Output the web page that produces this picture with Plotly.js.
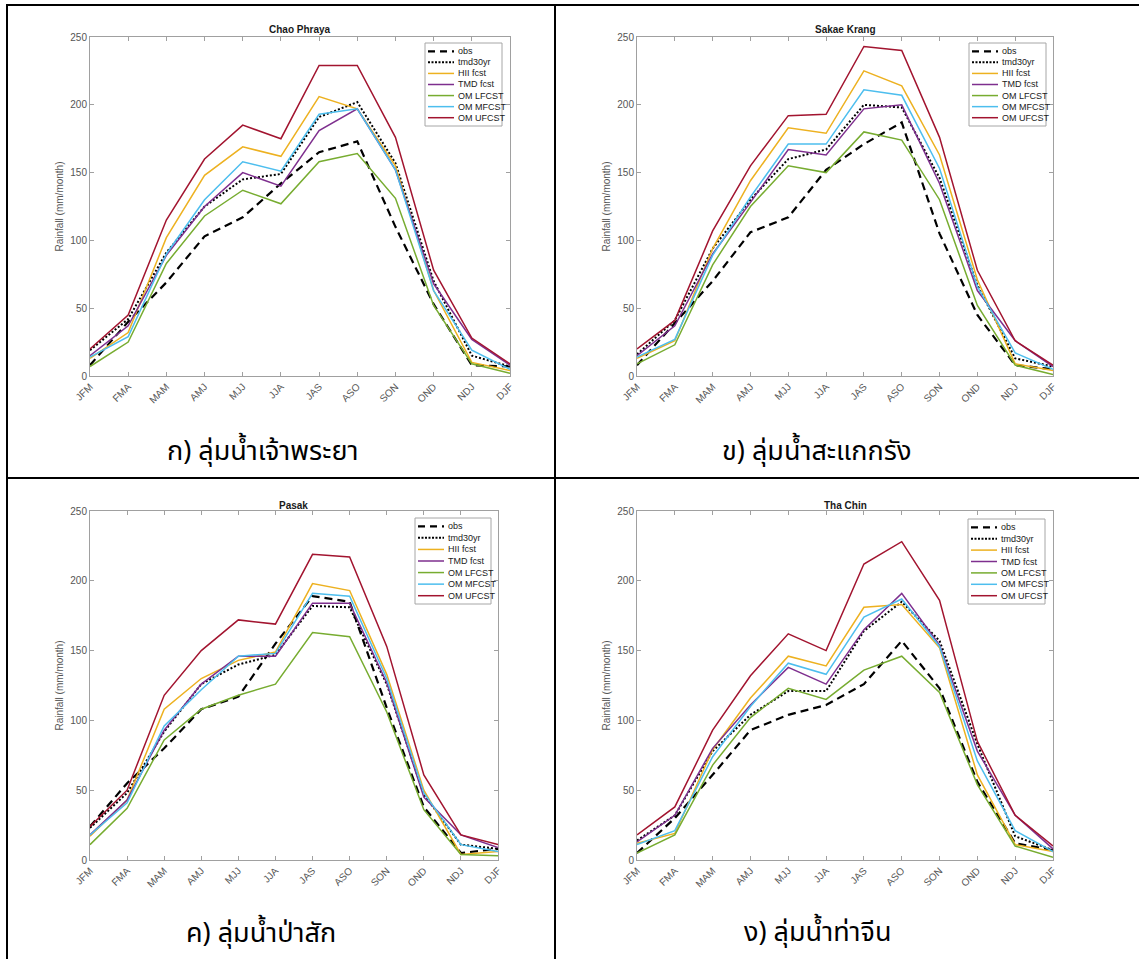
<!DOCTYPE html>
<html><head><meta charset="utf-8">
<script src="https://cdn.plot.ly/plotly-3.0.1.min.js"></script>
<style>html,body{margin:0;padding:0;background:#fff}#chart{width:1139px;height:959px}</style>
</head><body><div id="chart"></div>
<script>
// ---------------- data ----------------
const seasons = ['JFM','FMA','MAM','AMJ','MJJ','JJA','JAS','ASO','SON','OND','NDJ','DJF'];
const seriesNames = ['obs','tmd30yr','HII fcst','TMD fcst','OM LFCST','OM MFCST','OM UFCST'];
const basinTitles = ['Chao Phraya','Sakae Krang','Pasak','Tha Chin'];
const basinCaptions = ['ก) ลุ่มน้ำเจ้าพระยา','ข) ลุ่มน้ำสะแกกรัง','ค) ลุ่มน้ำป่าสัก','ง) ลุ่มน้ำท่าจีน'];
const yTickVals = [0,50,100,150,200,250];
const yAxisLabel = 'Rainfall (mm/month)';

// Chao Phraya
const chaoObs   = [8,40,69,103,117,142,165,173,110,53,8,7];
const chaoTmd30 = [19,42,91,125,145,149,191,202,157,70,15,7];
const chaoHii   = [13,32,102,148,169,162,206,197,155,63,10,4];
const chaoTmd   = [15,37,89,125,150,140,181,197,152,68,27,8];
const chaoOmL   = [7,25,83,118,137,127,158,164,131,52,9,2];
const chaoOmM   = [14,29,90,130,158,151,193,197,152,63,19,5];
const chaoOmU   = [20,45,115,160,185,175,229,229,176,78,28,9];

// Sakae Krang
const sakaeObs   = [8,39,70,106,117,152,171,187,105,45,8,5];
const sakaeTmd30 = [16,41,94,130,160,167,200,198,146,67,13,7];
const sakaeHii   = [13,26,94,144,183,179,225,214,163,71,9,4];
const sakaeTmd   = [15,37,90,128,167,163,197,200,142,63,26,7];
const sakaeOmL   = [9,23,82,125,155,150,180,174,130,52,8,1];
const sakaeOmM   = [14,27,89,132,171,171,211,207,153,66,17,5];
const sakaeOmU   = [20,41,107,155,192,193,243,240,176,78,26,8];

// Pasak
const pasakObs   = [24,55,80,108,117,155,189,185,109,38,5,8];
const pasakTmd30 = [23,48,92,126,140,147,182,181,126,47,11,8];
const pasakHii   = [17,43,108,130,143,149,198,193,133,50,4,6];
const pasakTmd   = [18,43,93,126,146,146,184,184,127,45,18,9];
const pasakOmL   = [11,37,86,108,118,126,163,160,106,36,4,3];
const pasakOmM   = [18,41,96,122,146,148,191,189,130,48,11,6];
const pasakOmU   = [24,50,118,150,172,169,219,217,153,61,18,11];

// Tha Chin
const thachinObs   = [5,30,61,93,104,111,126,157,123,56,12,7];
const thachinTmd30 = [14,32,78,104,121,121,164,185,157,83,17,7];
const thachinHii   = [12,19,79,116,146,139,181,183,152,61,11,6];
const thachinTmd   = [13,32,80,111,138,126,165,191,154,78,32,8];
const thachinOmL   = [5,18,68,102,123,115,136,146,120,54,10,2];
const thachinOmM   = [11,21,74,110,141,133,174,187,153,71,21,6];
const thachinOmU   = [18,38,93,132,162,150,212,228,186,85,32,10];

const basinData = [
  [chaoObs, chaoTmd30, chaoHii, chaoTmd, chaoOmL, chaoOmM, chaoOmU],
  [sakaeObs, sakaeTmd30, sakaeHii, sakaeTmd, sakaeOmL, sakaeOmM, sakaeOmU],
  [pasakObs, pasakTmd30, pasakHii, pasakTmd, pasakOmL, pasakOmM, pasakOmU],
  [thachinObs, thachinTmd30, thachinHii, thachinTmd, thachinOmL, thachinOmM, thachinOmU]
];

// ---------------- styles ----------------
const seriesColors = ['#000000','#000000','#EDB120','#7E2F8E','#77AC30','#4DBEEE','#A2142F'];
const seriesDash   = ['8px,5px','2px,2px','solid','solid','solid','solid','solid'];
const seriesWidth  = [2.2,2,1.5,1.5,1.5,1.5,1.5];

const W = 1139, H = 959;
const FONT = 'Liberation Sans, Arial, Helvetica, sans-serif';
const THAI = 'Noto Sans Thai, Noto Looped Thai, Loma, Garuda, Norasi, Tlwg Typo, sans-serif';
const px = v => v / W;
const py = v => 1 - v / H;

// panel geometry in pixels
const panels = [
  {x0:90,  x1:510,  y0:37,  y1:376, leg:[425,43,502,126], cap:[262,451], ty:30},
  {x0:637, x1:1053, y0:37,  y1:376, leg:[969,43,1046,126], cap:[816,451], ty:30},
  {x0:90,  x1:498,  y0:511, y1:860, leg:[415,518,491,604], cap:[261,933], ty:505},
  {x0:637, x1:1053, y0:511, y1:860, leg:[968,519,1045,604], cap:[817,932], ty:505}
];

const traces = [];
const layout = {
  width: W, height: H,
  margin: {l:0, r:0, t:0, b:0},
  paper_bgcolor: '#ffffff', plot_bgcolor: '#ffffff',
  showlegend: false,
  font: {family: FONT, size: 10, color: '#555555'},
  shapes: [], annotations: []
};

panels.forEach((p, k) => {
  const sfx = k === 0 ? '' : String(k + 1);
  const xa = 'xaxis' + sfx, ya = 'yaxis' + sfx;
  basinData[k].forEach((vals, i) => {
    traces.push({
      type: 'scatter', mode: 'lines',
      x: seasons, y: vals,
      name: seriesNames[i],
      xaxis: 'x' + sfx, yaxis: 'y' + sfx,
      line: {color: seriesColors[i], dash: seriesDash[i], width: seriesWidth[i]},
      hoverinfo: 'x+y+name'
    });
  });
  layout[xa] = {
    domain: [px(p.x0), px(p.x1)],
    anchor: 'y' + sfx,
    type: 'category', categoryarray: seasons, range: [0, 11],
    showline: true, linecolor: '#a0a0a0', linewidth: 1, mirror: 'ticks',
    ticks: 'inside', ticklen: 4, tickcolor: '#a0a0a0',
    tickangle: -45, tickfont: {family: FONT, size: 10, color: '#555555'},
    showgrid: false, zeroline: false, fixedrange: true
  };
  layout[ya] = {
    domain: [py(p.y1), py(p.y0)],
    anchor: 'x' + sfx,
    range: [0, 250], tickvals: yTickVals,
    showline: true, linecolor: '#a0a0a0', linewidth: 1, mirror: 'ticks',
    ticks: 'inside', ticklen: 4, tickcolor: '#a0a0a0',
    tickfont: {family: FONT, size: 10, color: '#555555'},
    title: {text: yAxisLabel, font: {family: FONT, size: 10, color: '#555555'}, standoff: 4},
    showgrid: false, zeroline: false, fixedrange: true
  };
  // subplot title
  layout.annotations.push({
    xref: 'paper', yref: 'paper', x: px((p.x0 + p.x1) / 2), y: py(p.ty),
    text: '<b>' + basinTitles[k] + '</b>', showarrow: false,
    font: {family: FONT, size: 10, color: '#1a1a1a'}, xanchor: 'center', yanchor: 'middle'
  });
  // caption
  layout.annotations.push({
    xref: 'paper', yref: 'paper', x: px(p.cap[0]), y: py(p.cap[1]),
    text: basinCaptions[k], showarrow: false,
    font: {family: THAI, size: 27, color: '#000000'}, xanchor: 'center', yanchor: 'middle'
  });
  // legend box
  const [lx0, ly0, lx1, ly1] = p.leg;
  layout.shapes.push({
    type: 'rect', xref: 'paper', yref: 'paper',
    x0: px(lx0), x1: px(lx1), y0: py(ly1), y1: py(ly0),
    line: {color: '#a6a6a6', width: 1}, fillcolor: '#ffffff', layer: 'above'
  });
  const step = (ly1 - ly0 - 16.6) / 6;
  seriesNames.forEach((nm, i) => {
    const ry = ly0 + 8.3 + i * step;
    layout.shapes.push({
      type: 'line', xref: 'paper', yref: 'paper',
      x0: px(lx0 + 3), x1: px(lx0 + 29), y0: py(ry), y1: py(ry),
      line: {color: seriesColors[i], width: seriesWidth[i], dash: i === 0 ? '7px,5px' : (i === 1 ? '2px,1.5px' : 'solid')},
      layer: 'above'
    });
    layout.annotations.push({
      xref: 'paper', yref: 'paper', x: px(lx0 + 31), y: py(ry),
      text: nm, showarrow: false, xanchor: 'left', yanchor: 'middle',
      font: {family: FONT, size: 9, color: '#1a1a1a'}
    });
  });
});

// table borders
const bl = (x0, y0, x1, y1) => layout.shapes.push({
  type: 'line', xref: 'paper', yref: 'paper',
  x0: px(x0), y0: py(y0), x1: px(x1), y1: py(y1),
  line: {color: '#000000', width: 2}, layer: 'above'
});
bl(6, 5, 1139, 5);
bl(7, 5, 7, 959);
bl(555, 5, 555, 959);
bl(7, 478, 1139, 478);

Plotly.newPlot('chart', traces, layout, {displayModeBar: false, staticPlot: true});
</script>
</body></html>
